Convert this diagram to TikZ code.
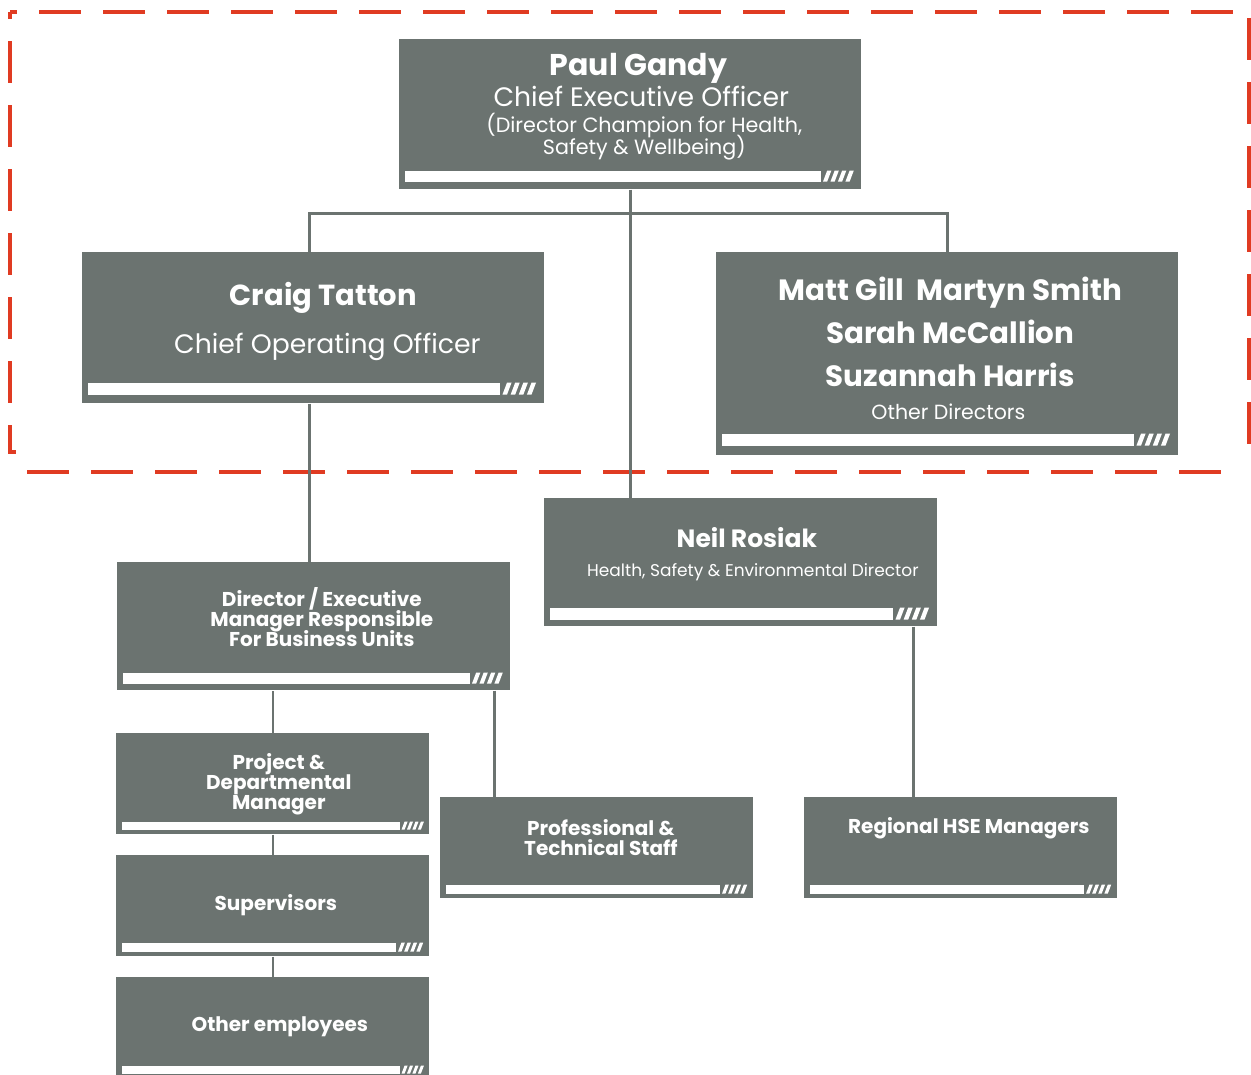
\documentclass[tikz,border=0pt]{standalone}
\usepackage{fontspec}
\setmainfont{Poppins}
\usepackage{xcolor}
\usepackage{tikz}
\usetikzlibrary{calc, positioning}
\definecolor{boxgrey}{HTML}{6B7370}
\definecolor{hsered}{HTML}{E03B22}
\setlength{\lineskiplimit}{-20pt}
\newcommand{\hsebar}[3]{%
  \fill[white] ($(#1.south west)+(6,-#3)$) rectangle ($(#1.south east)+({-3.72*#2},{-(#3+#2)})$);
  \foreach \k in {0,...,3}
    \fill[white] ($(#1.south east)+({-(0.8+(4-\k)*0.68)*#2},-#3)$) -- ++({0.38*#2},0)
      -- ++({0.38*#2},{-#2}) -- ++({-0.38*#2},0) -- cycle;
}

\begin{document}
\begin{tikzpicture}[
  x=0.6pt, y=-0.6pt,
  box/.style 2 args={fill=boxgrey, anchor=north west, inner sep=0pt,
              minimum width=#1*0.6pt, minimum height=#2*0.6pt},
  txt/.style={text=white, align=center, inner sep=0pt},
  bigname/.style={txt, font=\bfseries\fontsize{18}{20}\selectfont},
  bigrole/.style={txt, font=\fontsize{16}{18}\selectfont},
  smallrole/.style={txt, font=\fontsize{10.2}{13}\selectfont},
  unit/.style={txt, font=\bfseries\fontsize{12}{12}\selectfont},
  link/.style={draw=boxgrey, line width=1.5pt},
  frame/.style={draw=hsered, line width=2.4pt, dash pattern=on 25.2pt off 13.2pt},
]
  \useasboundingbox (0,0) rectangle (1251,1074);

  \draw[frame, dash phase=21pt] (10,12) -- (1249,12) -- (1249,452) -- (1243,452);
  \draw[frame, dash phase=21pt] (10,12) -- (10,452) -- (16,452);
  \draw[frame] (27,472) -- (1222,472);

  \node[box={462}{150}] (ceo) at (399,39) {};
  \node[box={462}{151}] (coo) at (82,252) {};
  \node[box={462}{203}] (dirs) at (716,252) {};
  \node[box={393}{128}] (neil) at (544,498) {};
  \node[box={393}{128}] (buexec) at (117,562) {};
  \node[box={313}{101}] (projmgr) at (116,733) {};
  \node[box={313}{101}] (superv) at (116,855) {};
  \node[box={313}{101}] (others) at (116,977) {};
  \node[box={313}{101}] (prof) at (440,797) {};
  \node[box={313}{101}] (regional) at (804,797) {};

  \node[bigname] (ceo-name) at ($(ceo.north)+(8,29)$) {Paul Gandy};
  \node[bigrole] (ceo-role) at ($(ceo.north)+(11,57)$) {Chief Executive Officer};
  \node[txt, font=\fontsize{12.4}{13.2}\selectfont] (ceo-note) at ($(ceo.north)+(14,98)$)
    {(Director Champion for Health,\\Safety \& Wellbeing)};
  \node[bigname, font=\bfseries\fontsize{17.4}{20}\selectfont] (coo-name) at ($(coo.north)+(10,46)$) {Craig Tatton};
  \node[bigrole] (coo-role) at ($(coo.north)+(14,95)$) {Chief Operating Officer};
  \node[txt, font=\bfseries\fontsize{17.6}{25.8}\selectfont] (dirs-names) at ($(dirs.north)+(3,80)$)
    {Matt Gill\ \ Martyn Smith\\Sarah McCallion\\Suzannah Harris};
  \node[txt, font=\fontsize{12.3}{13}\selectfont] (dirs-role) at ($(dirs.north)+(1,160)$) {Other Directors};
  \node[txt, font=\bfseries\fontsize{15}{17}\selectfont] (neil-name) at ($(neil.north)+(6,40)$) {Neil Rosiak};
  \node[smallrole] (neil-role) at ($(neil.north)+(12,74)$) {Health, Safety \& Environmental Director};
  \node[unit] (buexec-t) at ($(buexec.north)+(8,55)$) {Director / Executive\\Manager Responsible\\For Business Units};
  \node[unit] (projmgr-t) at ($(projmgr.north)+(6,51)$) {Project \&\\Departmental\\Manager};
  \node[unit] (superv-t) at ($(superv.north)+(3,50)$) {Supervisors};
  \node[unit] (others-t) at ($(others.north)+(7,50)$) {Other employees};
  \node[unit] (prof-t) at ($(prof.north)+(4,41)$) {Professional \&\\Technical Staff};
  \node[unit] (regional-t) at ($(regional.north)+(8,31)$) {Regional HSE Managers};

  \coordinate (fork) at ($(ceo.south)+(0,24)$);
  \coordinate (coo-tap) at ($(coo.north)+(-4,0)$);
  \coordinate (buexec-tap) at ($(buexec.south east)+(-16,0)$);
  \coordinate (neil-tap) at ($(neil.south east)+(-24,0)$);

  \draw[link] (ceo.south) -- (ceo.south |- neil.north);
  \draw[link] (coo-tap) |- (fork) -| (dirs.north);
  \draw[link] (coo-tap |- coo.south) -- (coo-tap |- buexec.north);
  \draw[link] (projmgr.north) -- (projmgr.north |- buexec.south);
  \draw[link] (buexec-tap) -- (buexec-tap |- prof.north);
  \draw[link] (projmgr.south) -- (superv.north);
  \draw[link] (superv.south) -- (others.north);
  \draw[link] (neil-tap) -- (neil-tap |- regional.north);

  \hsebar{ceo}{11}{8}
  \hsebar{coo}{12}{9}
  \hsebar{dirs}{12}{10}
  \hsebar{neil}{12}{7}
  \hsebar{buexec}{11}{7}
  \hsebar{projmgr}{8}{5}
  \hsebar{superv}{9}{5}
  \hsebar{others}{8}{5}
  \hsebar{prof}{9}{5}
  \hsebar{regional}{9}{5}
\end{tikzpicture}
\end{document}
